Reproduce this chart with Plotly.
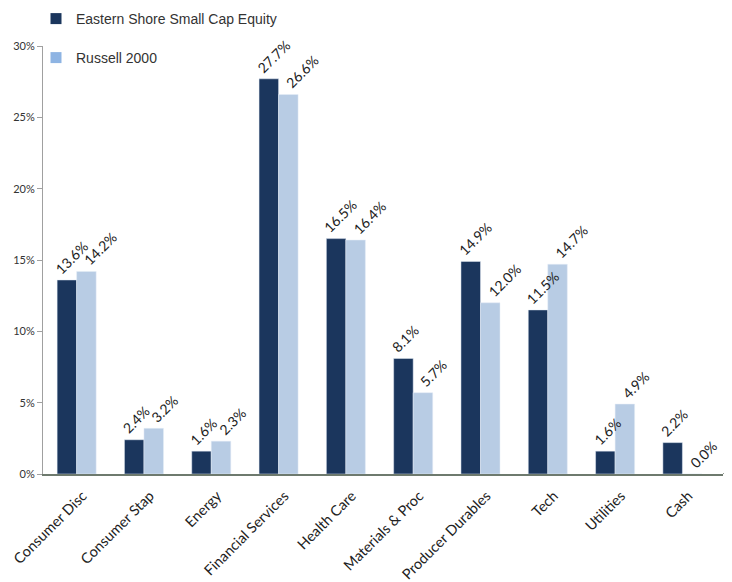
import plotly.graph_objects as go

categories = ["Consumer Disc", "Consumer Stap", "Energy", "Financial Services", "Health Care",
              "Materials & Proc", "Producer Durables", "Tech", "Utilities", "Cash"]
eastern = [13.6, 2.4, 1.6, 27.7, 16.5, 8.1, 14.9, 11.5, 1.6, 2.2]
russell = [14.2, 3.2, 2.3, 26.6, 16.4, 5.7, 12.0, 14.7, 4.9, 0.0]
y_ticks = [0, 5, 10, 15, 20, 25, 30]

dark = "#1B365D"
light = "#B8CCE4"
light_legend = "#8EB4E3"
axis_green = "#6E7A6E"
font = "Lato"

# figure geometry (page has 8px body margin)
W, H = 724, 574
ML, MR, MT, MB = 35, 9, 38, 108
BARGAP = 0.42
plot_w = W - ML - MR
cat_px = plot_w / len(categories)
bar_px = cat_px * (1 - BARGAP) / 2
NUDGE_DARK = -8
NUDGE_LIGHT = 1

fig = go.Figure()
for vals, col in [(eastern, dark), (russell, light)]:
    fig.add_trace(go.Bar(x=categories, y=vals, marker_color=col, showlegend=False,
                         hoverinfo="x+y"))

annotations = []
for vals, shift in [(eastern, -bar_px + NUDGE_DARK), (russell, NUDGE_LIGHT)]:
    for c, v in zip(categories, vals):
        annotations.append(dict(x=c, y=v, xref="x", yref="y", text=f"{v:.1f}%",
                                showarrow=False, textangle=-45, xanchor="left",
                                yanchor="bottom", xshift=shift, yshift=0,
                                font=dict(size=14, color="#222", family=font)))

fig.add_trace(go.Scatter(x=[None], y=[None], mode="markers", name="Eastern Shore Small Cap Equity",
                         marker=dict(symbol="square", size=11, color=dark), legend="legend"))
fig.add_trace(go.Scatter(x=[None], y=[None], mode="markers", name="Russell 2000",
                         marker=dict(symbol="square", size=11, color=light_legend), legend="legend2"))

legend_common = dict(xref="container", yref="container", xanchor="left", yanchor="middle",
                     bgcolor="rgba(0,0,0,0)", font=dict(size=14, color="#333", family="Liberation Sans"),
                     itemwidth=30)
fig.update_layout(
    width=W, height=H,
    margin=dict(l=ML, r=MR, t=MT, b=MB, autoexpand=False),
    plot_bgcolor="white", paper_bgcolor="white",
    barmode="group", bargap=BARGAP, bargroupgap=0,
    annotations=annotations,
    shapes=[dict(type="line", xref="paper", yref="y", x0=1, x1=1 + MR / plot_w, y0=0, y1=0,
                 line=dict(color=axis_green, width=1.5), layer="below")],
    legend=dict(x=28 / W, y=1 - 11 / H, **legend_common),
    legend2=dict(x=28 / W, y=1 - 50 / H, **legend_common),
    xaxis=dict(tickangle=-45, tickfont=dict(size=14.5, color="#222", family=font), automargin=False,
               showline=True, linecolor=axis_green, linewidth=1.5, ticks="",
               ticklabelstandoff=6, ticklabelshift=6, showgrid=False),
    yaxis=dict(range=[0, 30], tickvals=y_ticks, ticktext=[f"{t}%" for t in y_ticks], automargin=False,
               tickfont=dict(size=11, color="#333", family=font),
               showline=True, linecolor="#A0A0A0", linewidth=1, ticks="outside", ticklen=5,
               tickcolor="#A0A0A0", showgrid=False, zeroline=False),
)

fig.write_html("out.html")
